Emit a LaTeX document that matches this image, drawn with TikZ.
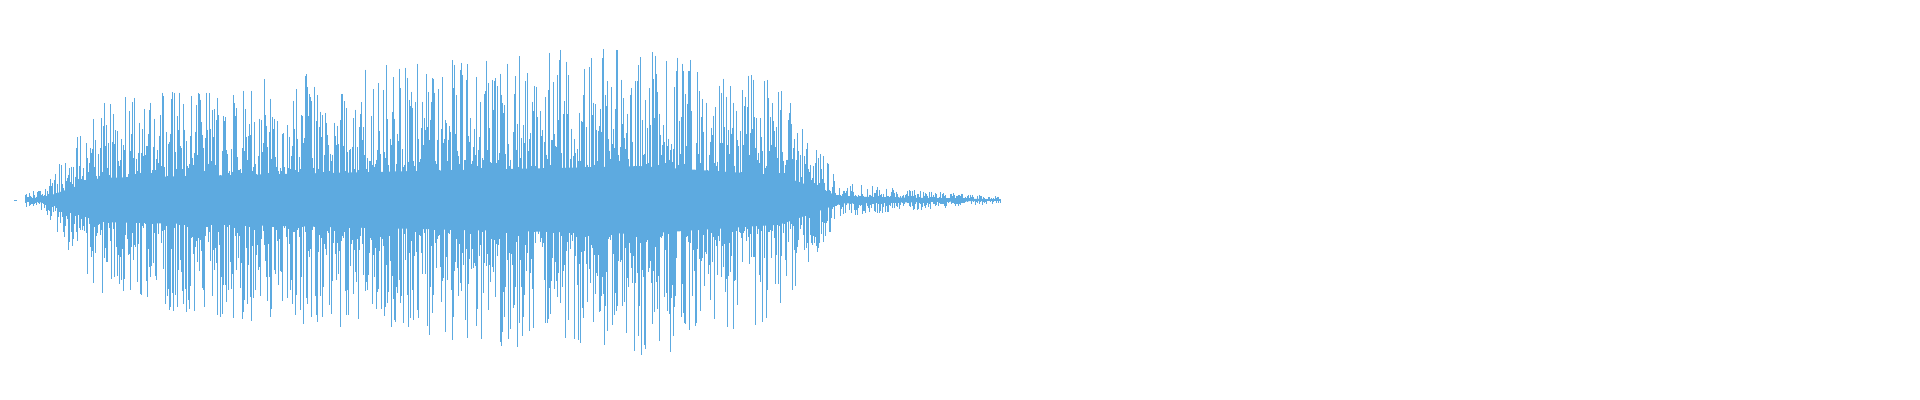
\documentclass[tikz,border=0pt]{standalone}
\usepackage{tikz}
\definecolor{wave}{RGB}{93,170,224}
\tikzset{
  declare function={env(\x)=(\x<45)?(3+(\x-15)*0.3):((\x<100)?(12+(\x-45)*1.6):((\x<640)?(100+(\x-100)*0.1):((\x<780)?(154-(\x-640)*0.3):((\x<840)?(112-(\x-780)*1.6):(max(16-(\x-840)*0.08,3))))));},
  spike/.style={draw=wave,line width=0.35pt}
}
\begin{document}
\begin{tikzpicture}[x=0.5pt,y=0.5pt]
\useasboundingbox (0,0) rectangle (1920,400);
\pgfmathsetseed{4217}
% solid core of the waveform
\fill[wave] plot[domain=25:1000,samples=120] (\x,{200+0.22*env(\x)})
  -- plot[domain=1000:25,samples=120] (\x,{200-0.22*env(\x)}) -- cycle;
% spikes
\foreach \x in {25,26,...,1000}{
  \pgfmathsetmacro{\e}{env(\x)}
  \pgfmathsetmacro{\up}{\e*(0.2+0.85*rnd^1.6)}
  \pgfmathsetmacro{\dn}{\e*(0.2+0.85*rnd^1.6)}
  \draw[spike] (\x,{200+\up}) -- (\x,{200-\dn});
}
\draw[spike] (14,200) -- (17,200);
\end{tikzpicture}
\end{document}
